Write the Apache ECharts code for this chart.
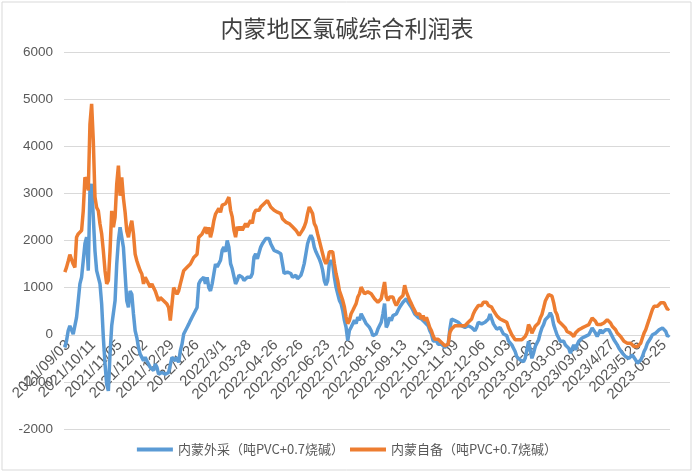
<!DOCTYPE html>
<html>
<head>
<meta charset="utf-8">
<script src="https://cdn.jsdelivr.net/npm/echarts@6/dist/echarts.min.js"></script>
<style>
html,body{margin:0;padding:0;background:#fff;}
#chart{width:694px;height:472px;}
</style>
</head>
<body>
<div id="chart"></div>
<script>
// Tick labels shown on the category axis (every ~15.5 points)
const tickLabels = ['2021/09/03','2021/10/11','2021/11/05','2021/12/02','2021/12/29','2022/1/26','2022/3/1','2022-03-28','2022-04-26','2022-05-26','2022-06-23','2022-07-20','2022-08-16','2022-09-13','2022-10-13','2022-11-09','2022-12-06','2023-01-03','2023-02-06','2023-03-03','2023/03/30','2023/4/27','2023/5/26','2023-06-25'];
const labelStart = 2;
const labelStep = 15.48;

const seriesNames = ['内蒙外采（吨PVC+0.7烧碱）', '内蒙自备（吨PVC+0.7烧碱）'];

// 内蒙外采 (blue)
const waicai = [
-270,-130,85,190,155,15,-20,370,720,1080,
1220,1570,1930,2070,1360,3060,3200,2490,1780,1360,
1360,1080,650,-60,-620,-1050,-1190,-400,190,170,
720,1500,2000,2280,2070,1850,1290,720,580,930,
860,440,85,-60,-270,-410,-480,-550,-480,-550,
-620,-690,-690,-760,-620,-690,-835,-835,-800,-835,
-835,-800,-800,-760,-480,-480,-550,-480,-590,-340,
-200,15,85,155,225,300,370,440,510,580,
1080,1150,1150,1220,1080,1220,1000,930,1080,1290,1500,
1440,1470,1580,1790,1860,1760,2000,1860,1510,1400,
1370,1080,1150,1260,1220,1220,1150,1190,1220,1260,
1220,1300,1650,1720,1610,1650,1860,1930,1970,2040,
2070,2040,1930,1860,1790,1790,1760,1790,1720,1510,
1300,1260,1330,1370,1300,1220,1190,1260,1190,1220,
1260,1370,1510,1720,1930,2040,2110,2040,1860,1760,
1720,1610,1510,1370,1150,1050,1150,1510,1580,1510,
1220,1010,870,730,660,515,305,160,-120,90,
160,235,305,235,375,305,445,480,305,235,
265,155,85,-20,-55,15,120,120,265,440,
660,155,230,370,300,405,370,440,515,585,
620,690,730,765,690,660,585,515,440,405,
370,405,335,370,265,300,190,85,15,-130,
-165,-130,-200,-165,-200,-235,-270,-305,-200,120,
335,335,300,300,265,230,190,230,155,190,
190,230,155,120,85,155,265,265,230,230,
265,300,335,440,335,230,190,120,85,155,
85,15,50,-20,-130,-165,
-215,-285,-355,-465,-500,-535,-535,-570,-500,-320,
-140,-320,-500,-390,-250,-215,-105,35,145,215,
320,355,390,465,390,215,105,0,-70,-140,
-180,-140,-215,-180,-285,-390,-355,-215,-320,-215,
-140,-105,-70,-105,-35,-35,0,70,145,105,
35,-35,35,105,35,70,105,145,105,35,
-35,-105,-140,-215,-285,-320,-390,-430,-465,-465,
-500,-465,-430,-465,-535,-605,-570,-535,-465,-355,
-285,-180,-140,-70,0,35,35,70,105,70,
145,105,70,-35,0
];

// 内蒙自备 (orange)
const zibei = [
1330,1430,1560,1700,1720,1500,1430,2070,2140,2150,
2210,2630,3340,3270,3060,4470,4900,4120,2920,2700,
2630,2350,2140,1780,1360,1080,1150,1780,2630,2280,
2490,3200,3590,2950,3340,2900,2600,2200,2070,2280,
2420,2140,1710,1570,1460,1360,1290,1080,1220,1220,
1080,1010,1080,1000,930,930,720,790,790,720,
720,650,580,300,650,1000,930,860,930,1080,
1220,1360,1360,1430,1430,1500,1570,1640,1640,1710,
2070,2070,2140,2210,2280,2140,2280,2070,2210,2420,2560,
2570,2680,2600,2750,2710,2780,2850,2920,2640,2500,
2220,2070,2290,2220,2290,2220,2290,2360,2290,2360,
2430,2360,2570,2640,2600,2640,2710,2750,2780,2750,
2850,2850,2710,2750,2640,2680,2600,2640,2570,2460,
2460,2390,2430,2360,2360,2290,2320,2220,2180,2110,
2140,2220,2290,2390,2570,2710,2710,2570,2360,2290,
2140,2000,1860,1720,1580,1510,1580,1760,1790,1760,
1510,1300,1150,940,835,730,590,375,235,305,
445,515,590,660,800,870,1010,980,870,905,
910,940,870,835,765,765,690,730,765,800,
1120,800,730,800,765,800,690,620,690,765,
800,835,1050,910,870,730,660,585,515,440,
405,440,335,405,300,370,265,155,85,-20,
-95,-55,-95,-130,-165,-200,-235,-270,-200,50,
120,155,190,155,190,155,190,230,190,230,
265,230,335,440,515,550,620,660,620,690,
660,690,620,660,585,515,480,405,370,335,
335,300,335,265,155,120,
0,-35,-105,-140,-105,-70,-105,-70,-35,35,
215,145,35,105,180,145,250,355,430,570,
715,785,855,890,820,680,500,430,285,250,
215,180,145,70,105,35,0,-35,35,35,
105,105,145,180,180,215,215,285,355,320,
285,215,180,215,215,250,285,320,285,250,
180,145,105,35,0,-35,-70,-140,-140,-180,
-140,-180,-180,-250,-285,-250,-250,-180,-70,35,
105,215,320,430,535,605,640,605,640,680,
715,680,605,535,560
];

const yTicks = {min: -2000, max: 6000, interval: 1000};

// layout
const gridTop = 52, gridBottom = 43, chartH = 472;
const gridH = chartH - gridTop - gridBottom;
// place the category axis where the value axis crosses zero
const zeroOffset = -((0 - yTicks.min) / (yTicks.max - yTicks.min)) * gridH;

// category indices and label positions built from the arrays above
const categories = waicai.map((_, i) => String(i));
const labelAt = {};
tickLabels.forEach((t, j) => { labelAt[Math.round(labelStart + j * labelStep)] = t; });

const chart = echarts.init(document.getElementById('chart'));
chart.setOption({
  animation: false,
  backgroundColor: '#ffffff',
  title: {
    text: '内蒙地区氯碱综合利润表',
    left: 'center',
    top: 12,
    textStyle: {fontFamily: 'Noto Sans CJK SC', fontSize: 23, fontWeight: 'normal', color: '#404040'}
  },
  legend: {
    data: seriesNames,
    left: 'center',
    top: 438,
    icon: 'rect',
    itemWidth: 36,
    itemHeight: 4,
    itemGap: 6,
    textStyle: {fontFamily: 'Noto Sans CJK SC', fontSize: 13, color: '#595959'}
  },
  graphic: [{
    type: 'rect',
    shape: {x: 2, y: 2, width: 689, height: 468},
    style: {fill: 'none', stroke: '#d9d9d9', lineWidth: 1},
    silent: true
  }],
  grid: {left: 64, right: 24, top: gridTop, bottom: gridBottom, containLabel: false},
  xAxis: {
    type: 'category',
    data: categories,
    boundaryGap: true,
    offset: zeroOffset,
    axisLine: {show: true, onZero: false, lineStyle: {color: '#d9d9d9', width: 1}},
    axisTick: {show: false},
    splitLine: {show: false},
    axisLabel: {
      rotate: 45,
      margin: 8,
      interval: (index) => labelAt[index] !== undefined,
      formatter: (value, index) => labelAt[index] || '',
      fontFamily: 'Liberation Sans',
      fontSize: 15,
      color: '#595959'
    }
  },
  yAxis: {
    type: 'value',
    min: yTicks.min,
    max: yTicks.max,
    interval: yTicks.interval,
    axisLine: {show: false},
    axisTick: {show: false},
    splitLine: {lineStyle: {color: '#d9d9d9', width: 1}},
    axisLabel: {margin: 11, fontFamily: 'Liberation Sans', fontSize: 13.5, color: '#595959', formatter: (v) => String(v)}
  },
  series: [
    {name: seriesNames[0], type: 'line', data: waicai, symbol: 'none', lineStyle: {width: 3.5, color: '#5B9BD5'}, itemStyle: {color: '#5B9BD5'}},
    {name: seriesNames[1], type: 'line', data: zibei, symbol: 'none', lineStyle: {width: 3.5, color: '#ED7D31'}, itemStyle: {color: '#ED7D31'}}
  ]
});
</script>
</body>
</html>
